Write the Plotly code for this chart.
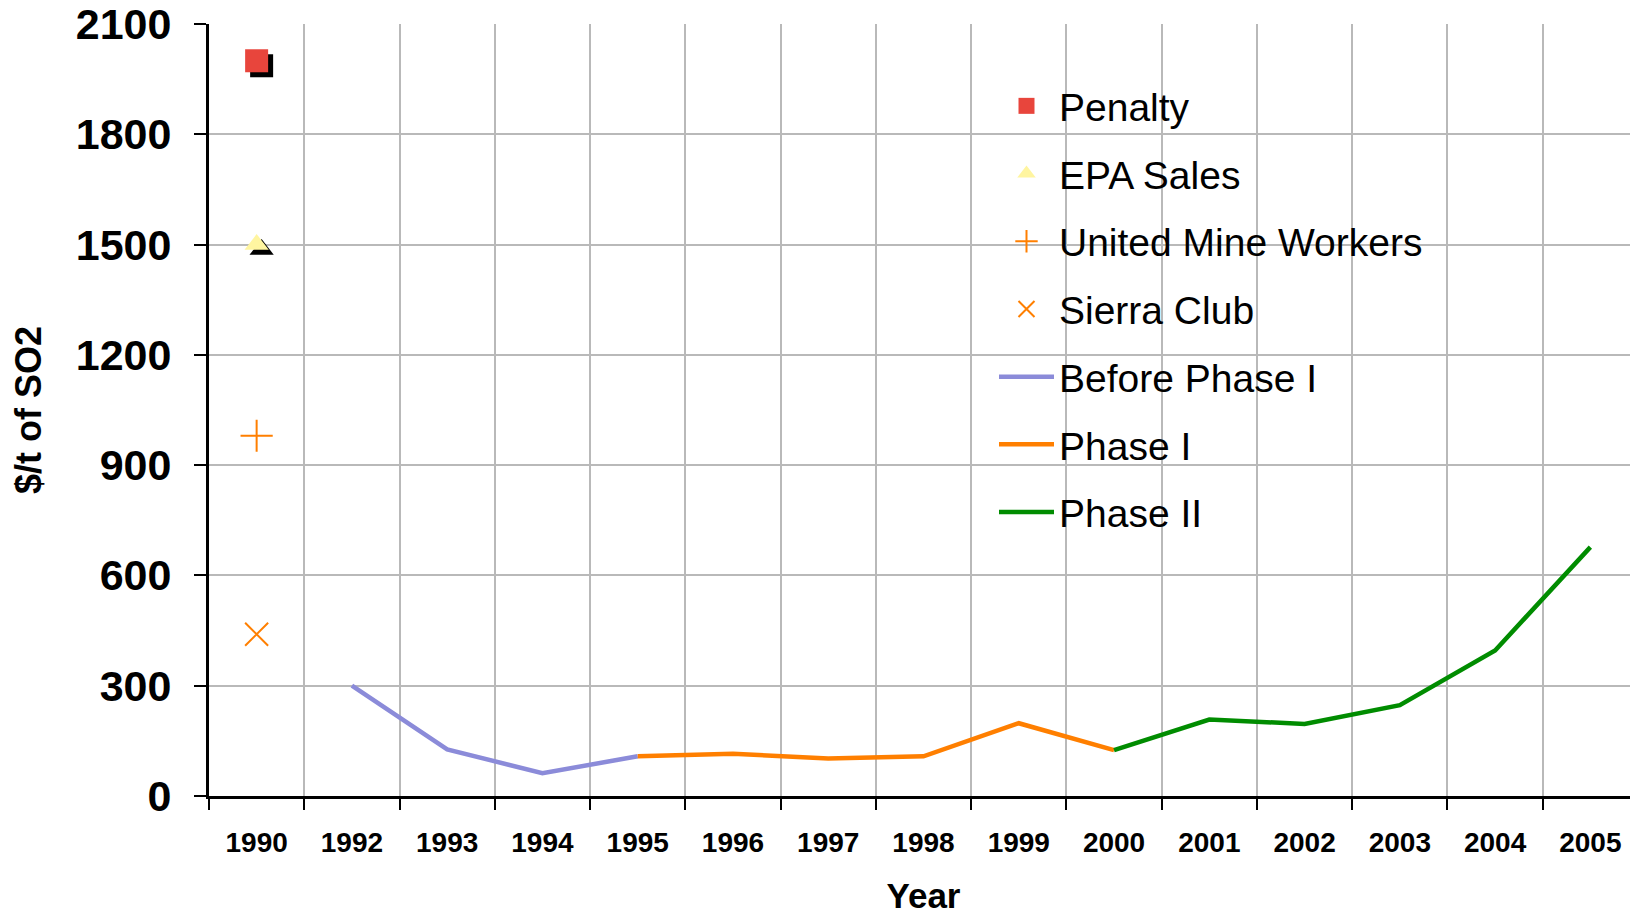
import plotly.graph_objects as go

# category axis, note 1991 is not in the source data
years = ["1990", "1992", "1993", "1994", "1995", "1996", "1997", "1998",
         "1999", "2000", "2001", "2002", "2003", "2004", "2005"]

penalty = 2000
epa_sales = 1500
mine_workers = 980
sierra_club = 440

before_years = ["1992", "1993", "1994", "1995"]
before_vals = [300, 127, 62, 108]

phase1_years = ["1995", "1996", "1997", "1998", "1999", "2000"]
phase1_vals = [108, 115, 102, 108, 198, 125]

phase2_years = ["2000", "2001", "2002", "2003", "2004", "2005"]
phase2_vals = [125, 208, 196, 247, 396, 677]

FONT = "Liberation Sans, Arial, sans-serif"
# page body has an 8px margin, so the figure is a bit smaller than the window
W, H = 1630, 907
L, R, T, B = 201, 0, 16, 119
PW, PH = W - L - R, H - T - B
top_px = T + 8
bot_px = H - B + 8

# drop shadow under the square and triangle: same data on a hidden axis pair
# whose ranges are nudged by a few pixels
shadow_px = 5
n_cat = len(years)
dx = shadow_px * n_cat / PW
dy = shadow_px * 2100 / PH

fig = go.Figure()

fig.add_trace(go.Scatter(
    x=[years[0], years[0]], y=[penalty, epa_sales], mode="markers",
    marker=dict(symbol=["square", "triangle-up"], size=[23, 21], color="#000000",
                opacity=1, line=dict(width=0)),
    showlegend=False, hoverinfo="skip", xaxis="x", yaxis="y",
))

fig.add_trace(go.Scatter(
    x=[years[0]], y=[penalty], mode="markers", name="Penalty",
    marker=dict(symbol="square", size=23, color="#e8453c"),
    legendgroup="a", xaxis="x2", yaxis="y2",
))
fig.add_trace(go.Scatter(
    x=[years[0]], y=[epa_sales], mode="markers", name="EPA Sales",
    marker=dict(symbol="triangle-up", size=21, color="#fff5a0"),
    legendgroup="b", xaxis="x2", yaxis="y2",
))
fig.add_trace(go.Scatter(
    x=[years[0]], y=[mine_workers], mode="markers", name="United Mine Workers",
    marker=dict(symbol="cross-thin", size=23, line=dict(color="#ff7f00", width=2)),
    legendgroup="c", xaxis="x2", yaxis="y2",
))
fig.add_trace(go.Scatter(
    x=[years[0]], y=[sierra_club], mode="markers", name="Sierra Club",
    marker=dict(symbol="x-thin", size=23, line=dict(color="#ff7f00", width=2)),
    legendgroup="d", xaxis="x2", yaxis="y2",
))
fig.add_trace(go.Scatter(
    x=before_years, y=before_vals, mode="lines", name="Before Phase I",
    line=dict(color="#8b8bd9", width=4.5),
    legendgroup="e", xaxis="x2", yaxis="y2",
))
fig.add_trace(go.Scatter(
    x=phase1_years, y=phase1_vals, mode="lines", name="Phase I",
    line=dict(color="#ff7f00", width=4.5),
    legendgroup="f", xaxis="x2", yaxis="y2",
))
fig.add_trace(go.Scatter(
    x=phase2_years, y=phase2_vals, mode="lines", name="Phase II",
    line=dict(color="#008c00", width=4.5),
    legendgroup="g", xaxis="x2", yaxis="y2",
))

# white panel behind the legend, wider than the legend box itself
fig.add_shape(
    type="rect", xref="paper", yref="paper",
    x0=(955 - 209) / PW, x1=(1470 - 209) / PW,
    y0=(bot_px - 543) / PH, y1=(bot_px - 68) / PH,
    fillcolor="white", line=dict(width=0), layer="between",
)

fig.update_layout(
    width=W, height=H,
    margin=dict(l=L, r=R, t=T, b=B, pad=0),
    plot_bgcolor="white", paper_bgcolor="white",
    font=dict(family=FONT, color="black"),
    xaxis=dict(
        type="category", categoryorder="array", categoryarray=years,
        range=[-0.5 - dx, n_cat - 0.5 - dx], visible=False,
    ),
    yaxis=dict(range=[dy, 2100 + dy], visible=False),
    xaxis2=dict(
        type="category", categoryorder="array", categoryarray=years,
        range=[-0.5, n_cat - 0.5], overlaying="x", anchor="y2",
        tickson="boundaries", ticks="outside", ticklen=11, tickwidth=2,
        tickcolor="black", showline=True, linecolor="black", linewidth=3,
        showgrid=True, gridcolor="#b9b9b9", gridwidth=2, automargin=False,
        tickfont=dict(size=28, weight="bold"), ticklabelstandoff=19,
        title=dict(text="Year", font=dict(size=35, weight="bold"), standoff=33),
    ),
    yaxis2=dict(
        range=[0, 2100], tickvals=list(range(0, 2101, 300)),
        overlaying="y", anchor="x2", side="left",
        ticks="outside", ticklen=12, tickwidth=2, tickcolor="black",
        showline=True, linecolor="black", linewidth=3,
        showgrid=True, gridcolor="#b9b9b9", gridwidth=2, zeroline=False,
        tickfont=dict(size=43, weight="bold"), ticklabelstandoff=14,
        ticklabeloverflow="allow", automargin=False,
        # leading spaces lift the rotated title a little above centre
        title=dict(text="\u00a0\u00a0\u00a0$/t of SO2",
                   font=dict(size=36, weight="bold"), standoff=41),
    ),
    legend=dict(
        x=(986 - L) / PW, y=(bot_px - 74) / PH,
        xanchor="left", yanchor="top",
        bgcolor="rgba(0,0,0,0)", borderwidth=0,
        font=dict(size=39), itemwidth=55, tracegroupgap=14,
    ),
)

fig.write_html("out.html")
